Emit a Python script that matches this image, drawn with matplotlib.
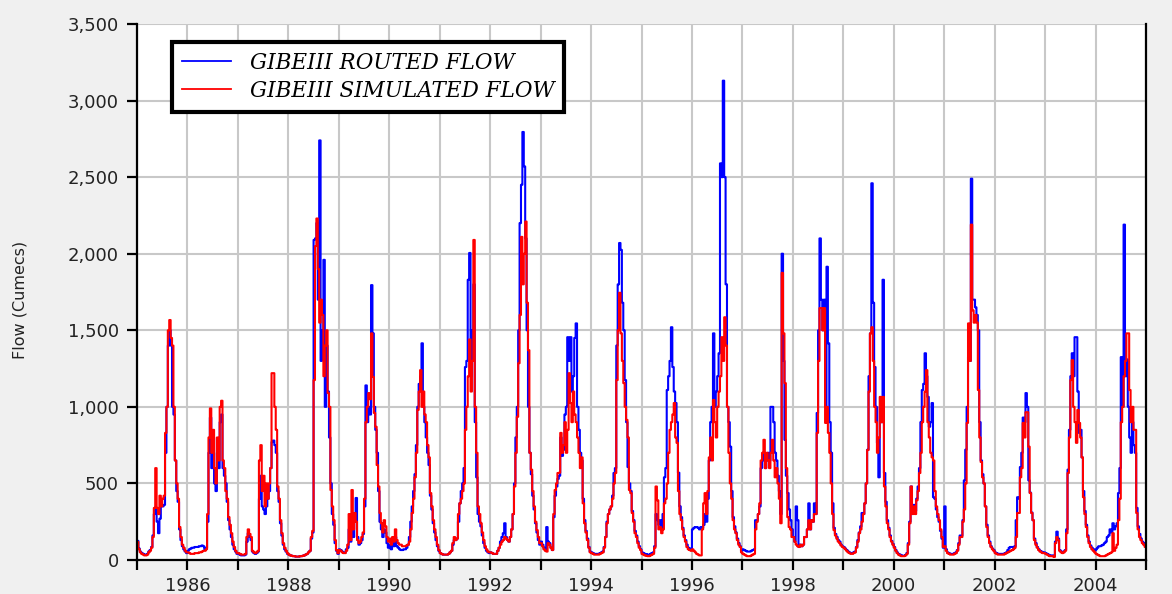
import numpy as np
import matplotlib
matplotlib.use('Agg')
import matplotlib.pyplot as plt
from matplotlib.ticker import MultipleLocator, FuncFormatter


YEARS = list(range(1985, 2005))
STEPS_PER_YEAR = 36  # dekads (10-day blocks)

# dekadal flows, one row per year (Jan..Dec, 3 per month)
routed = [
    [125,75,55, 45,40,35, 35,40,55, 65,85,160, 300,330,250, 175,270,350, 350,360,700, 1000,1400,1500, 1400,1000,950, 650,450,380, 200,130,90, 70,55,45],
    [60,70,75, 80,80,85, 85,85,90, 90,95,90, 70,80,250, 700,930,600, 800,500,450, 700,600,900, 950,600,550, 500,380,260, 200,150,100, 70,55,40],
    [40,35,30, 30,30,35, 120,175,150, 130,55,45, 40,45,55, 400,550,350, 330,300,350, 400,450,600, 770,780,750, 700,450,380, 240,160,100, 70,55,40],
    [35,30,28, 25,25,22, 22,22,25, 25,28,30, 35,40,50, 60,140,180, 2090,2100,2200, 1700,2740,1300, 1500,1960,1000, 1400,1100,800, 500,300,230, 110,60,40],
    [70,65,55, 50,50,70, 80,200,120, 300,150,250, 405,150,100, 110,130,170, 350,1140,900, 1000,950,1795, 1480,1000,850, 700,450,250, 200,150,200, 180,110,80],
    [100,70,110, 90,150,90, 80,70,65, 65,70,70, 80,100,150, 250,350,450, 560,750,1000, 1150,1200,1415, 1000,900,800, 700,620,420, 330,240,180, 130,90,60],
    [45,40,35, 35,35,35, 40,50,60, 100,130,130, 140,250,370, 450,500,600, 1260,1300,1830, 2005,1200,1500, 1800,900,540, 300,250,220, 160,110,80, 60,50,45],
    [50,45,40, 40,40,60, 80,120,150, 175,240,150, 130,120,150, 200,300,500, 800,1000,1500, 2200,2450,2795, 2570,2100,1500, 1000,700,560, 420,330,240, 180,130,100],
    [120,100,80, 70,215,120, 110,80,65, 280,420,480, 530,550,800, 680,720,950, 1000,1455,1300, 1455,1100,1200, 1450,1545,1000, 850,700,650, 400,260,190, 140,85,55],
    [50,45,40, 40,40,40, 45,50,55, 85,150,250, 300,330,350, 420,568,600, 1400,1800,2070, 2025,1680,1500, 1175,900,607, 500,450,320, 260,190,160, 120,90,70],
    [50,45,40, 38,35,35, 40,45,50, 90,300,260, 230,260,195, 300,540,600, 1110,1200,1300, 1520,1260,1100, 1025,900,570, 350,280,210, 160,130,100, 80,75,70],
    [200,210,215, 215,210,200, 215,210,230, 300,250,400, 650,900,1000, 1480,1000,1100, 1200,1350,2590, 2500,3130,2500, 1800,1000,900, 740,450,280, 220,180,140, 110,90,60],
    [70,65,60, 55,55,55, 60,65,70, 260,260,300, 350,600,650, 700,600,650, 700,650,1000, 1000,900,700, 650,550,450, 300,2000,1300, 785,550,437, 330,260,200],
    [150,120,350, 260,85,100, 90,100,150, 150,200,370, 200,260,250, 370,300,960, 1500,2100,1700, 1500,1700,1000, 1915,1415,900, 700,370,210, 170,150,130, 120,100,90],
    [85,75,65, 55,50,45, 45,50,55, 85,130,180, 220,307,300, 370,500,720, 1200,1480,2460, 1680,1260,1000, 765,540,1000, 900,1830,568, 380,260,210, 160,125,105],
    [85,65,50, 40,35,30, 28,28,32, 45,110,250, 480,320,360, 320,400,480, 600,900,1110, 1150,1350,1200, 1065,870,900, 1025,410,400, 330,280,250, 190,140,80],
    [350,70,50, 45,40,40, 40,45,50, 65,110,160, 160,260,520, 720,1000,1325, 1300,2490,1700, 1700,1650,1600, 1500,900,650, 560,500,350, 230,160,120, 90,75,65],
    [50,45,40, 40,40,40, 40,45,50, 65,80,85, 85,80,90, 260,410,400, 607,700,930, 900,1090,1000, 520,440,310, 260,140,110, 85,70,60, 55,50,50],
    [45,40,35, 30,30,30, 25,120,185, 140,65,55, 50,55,65, 200,590,850, 1200,1350,1200, 1455,1455,1100, 830,850,670, 450,320,230, 160,120,95, 80,70,60],
    [70,80,90, 90,95,100, 110,120,150, 160,200,180, 240,200,220, 240,437,600, 1325,1000,2190, 1200,1310,1000, 800,700,900, 750,700,340, 220,170,140, 120,110,95],
]

simulated = [
    [118,70,50, 40,35,30, 30,35,50, 60,80,150, 340,600,340, 300,420,350, 400,420,830, 1000,1500,1567, 1450,1400,1000, 650,500,400, 215,150,100, 80,60,50],
    [50,45,40, 40,40,45, 45,45,50, 50,55,60, 60,70,300, 800,990,700, 850,600,500, 800,650,1000, 1040,650,600, 450,400,280, 230,175,120, 85,60,45],
    [45,40,35, 35,35,40, 150,200,170, 150,60,50, 45,50,60, 650,750,450, 550,350,500, 400,500,600, 1220,1220,1000, 850,480,400, 260,175,110, 80,60,45],
    [35,30,28, 25,25,22, 22,22,25, 25,28,30, 35,40,50, 60,150,190, 1175,2050,2230, 1900,1550,1700, 1600,1200,1400, 1500,1090,1000, 457,350,260, 130,65,45],
    [65,60,50, 45,45,60, 100,300,130, 457,200,307, 250,130,110, 120,150,180, 400,900,1000, 1090,1050,1480, 1195,960,870, 620,480,307, 240,180,260, 220,150,120],
    [140,100,150, 120,200,130, 110,100,100, 90,90,90, 95,100,120, 200,307,400, 540,700,980, 1100,1240,1000, 1100,950,900, 750,670,437, 350,260,200, 150,100,65],
    [45,40,35, 35,35,35, 40,50,60, 110,150,130, 140,300,370, 400,450,500, 850,1000,1200, 1440,1100,1300, 2090,1000,700, 350,300,240, 180,130,90, 70,55,50],
    [50,45,40, 40,40,60, 80,100,120, 130,150,140, 130,120,150, 200,300,480, 700,935,1285, 1600,2110,1800, 2000,2210,1680, 1370,700,590, 450,350,250, 195,150,110],
    [110,90,70, 60,55,110, 100,80,65, 300,457,500, 568,570,830, 700,750,900, 700,850,1220, 1025,900,1100, 950,900,800, 700,600,670, 370,240,180, 130,80,50],
    [45,40,35, 35,35,35, 40,45,50, 80,150,240, 300,330,350, 400,500,568, 1175,1500,1745, 1480,1300,1155, 1000,915,800, 457,437,307, 250,175,150, 110,80,65],
    [40,35,30, 28,25,25, 30,35,40, 80,480,390, 200,215,175, 200,370,400, 500,700,850, 900,950,1025, 800,765,450, 300,260,200, 150,120,85, 70,65,60],
    [70,60,50, 40,35,30, 30,200,370, 437,300,450, 670,800,650, 1045,900,800, 1000,1100,1200, 1455,1300,1585, 1400,1000,700, 500,400,260, 200,175,130, 100,85,50],
    [40,35,30, 25,25,25, 30,35,40, 200,250,300, 370,650,700, 785,600,700, 650,600,700, 785,650,540, 600,500,400, 240,1875,1480, 1155,600,280, 215,200,150],
    [150,120,100, 90,85,100, 90,100,150, 150,200,260, 200,260,250, 300,300,830, 1300,1645,1645, 1500,1645,895, 1000,830,700, 500,300,195, 160,140,120, 110,95,85],
    [80,70,60, 50,45,40, 40,45,50, 80,120,175, 200,250,300, 370,500,718, 1100,1480,1520, 1300,1000,900, 700,800,1065, 900,1065,480, 350,240,200, 150,120,100],
    [80,60,45, 35,30,25, 25,25,30, 40,100,240, 480,300,350, 300,390,450, 568,700,900, 1000,1100,1240, 900,800,700, 670,650,450, 350,300,260, 200,150,85],
    [90,60,45, 40,35,35, 35,40,45, 60,100,150, 150,250,330, 500,895,1545, 1300,2190,1630, 1550,1600,1550, 1110,800,640, 540,500,350, 215,150,110, 85,70,60],
    [45,40,35, 35,35,35, 35,40,45, 50,55,60, 65,70,80, 150,307,307, 540,600,895, 800,965,965, 740,437,307, 260,130,100, 80,65,55, 50,45,45],
    [40,35,30, 25,25,25, 20,110,150, 130,60,50, 45,50,60, 175,568,800, 1175,1305,1000, 900,765,980, 895,800,670, 410,300,215, 150,110,85, 70,60,50],
    [40,35,30, 25,25,25, 25,30,35, 40,45,50, 175,60,80, 100,260,400, 900,1000,1200, 1300,1480,1480, 1110,900,1000, 850,850,307, 200,150,130, 110,100,85],
]

LABELS = ['GIBEIII ROUTED FLOW', 'GIBEIII SIMULATED FLOW']


def to_series(rows):
    """ flatten the yearly rows into decimal-year x and flow y """
    x, y = [], []
    for year, row in zip(YEARS, rows):
        for k, v in enumerate(row):
            x.append(year + k / STEPS_PER_YEAR)
            y.append(v)
    x.append(YEARS[-1] + 1)  # close the last step
    y.append(rows[-1][-1])
    return np.array(x), np.array(y)


fig = plt.figure(figsize=(11.72, 5.94), dpi=100, facecolor='#f0f0f0')
ax = fig.add_axes([137/1172, 1 - 560/594, 1009/1172, 536/594])
ax.set_facecolor('white')

xr, yr = to_series(routed)
xs, ys = to_series(simulated)
ax.step(xr, yr, where='post', color='#0000ff', lw=1.5, label=LABELS[0])
ax.step(xs, ys, where='post', color='#ff0000', lw=1.5, label=LABELS[1])

ax.set_xlim(1985, 2005)
ax.set_ylim(0, 3500)

ax.xaxis.set_major_locator(MultipleLocator(1))
ax.xaxis.set_major_formatter(FuncFormatter(lambda v, p: f'{int(round(v))}' if round(v) % 2 == 0 and v < 2005 else ''))
ax.yaxis.set_major_locator(MultipleLocator(500))
ax.yaxis.set_major_formatter(FuncFormatter(lambda v, p: f'{int(v):,}'))

ax.set_axisbelow(True)
ax.grid(True, color='#c8c8c8', lw=1.5)

for side in ['left', 'bottom', 'right']:
    ax.spines[side].set_color('black')
    ax.spines[side].set_linewidth(1.6)
ax.spines['top'].set_visible(False)

ax.tick_params(axis='both', direction='out', length=7, width=1.6, colors='black',
               labelcolor='#222222', labelsize=13, pad=5)
ax.tick_params(axis='y', pad=6)

fig.text(20/1172, 1 - 300/594, 'Flow (Cumecs)', rotation=90, ha='center', va='center',
         fontsize=11.5, color='#222222', family=['Liberation Sans Narrow', 'DejaVu Sans'])

leg = ax.legend(loc='upper left', bbox_to_anchor=(0.0347, 0.966), borderaxespad=0,
                fancybox=False, framealpha=1, edgecolor='black', handlelength=2.3,
                handletextpad=0.85, borderpad=0.45, labelspacing=0.28,
                prop={'family': 'DejaVu Serif', 'style': 'italic', 'size': 15.5})
leg.get_frame().set_linewidth(3)
for line in leg.get_lines():
    line.set_linewidth(1.3)

fig.savefig('out.png', dpi=100, facecolor=fig.get_facecolor())
